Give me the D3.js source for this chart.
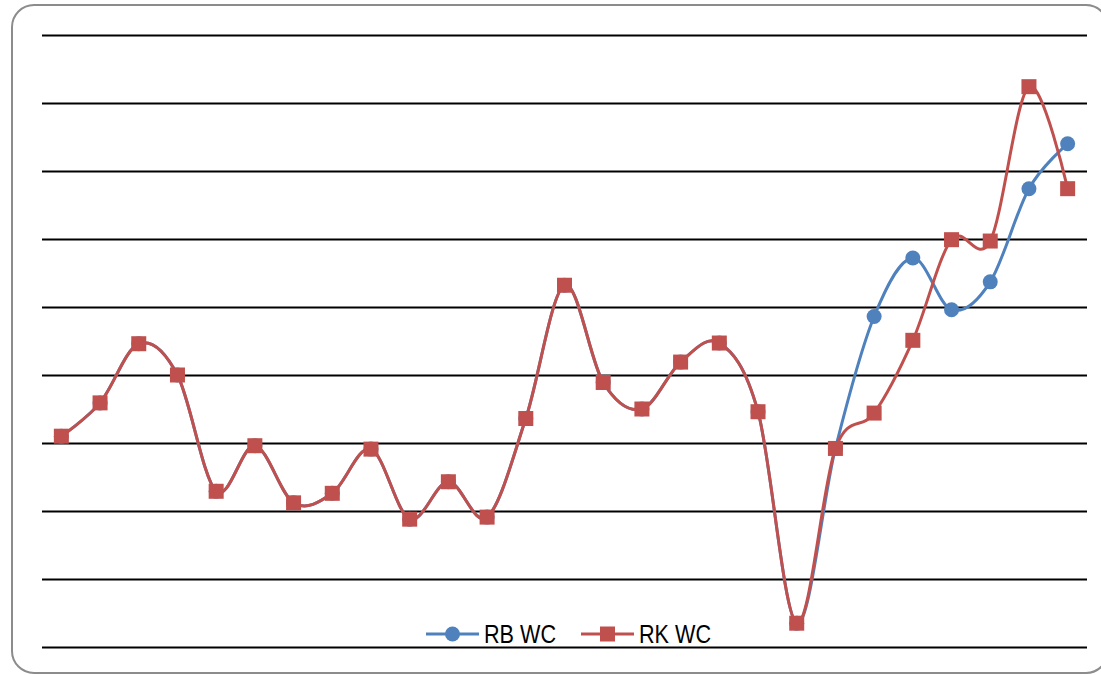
<!DOCTYPE html>
<html>
<head>
<meta charset="utf-8">
<script src="https://cdn.jsdelivr.net/npm/d3@7"></script>
<style>
  html, body { margin: 0; padding: 0; background: #ffffff; }
  svg { display: block; }
</style>
</head>
<body>
<svg id="chart" width="1101" height="675"></svg>
<script>
// Categories along the x axis (27 periods)
const categories = d3.range(1, 28).map(String);

// Series values
const rbWC = [3.10, 3.59, 4.46, 4.00, 2.29, 2.96, 2.12, 2.26, 2.91, 1.88, 2.43, 1.91, 3.36,
              5.32, 3.89, 3.50, 4.19, 4.47, 3.46, 0.35, 2.92, 4.86, 5.72, 4.96, 5.37, 6.74, 7.40];
const rkWC = [3.10, 3.59, 4.46, 4.00, 2.29, 2.96, 2.12, 2.26, 2.91, 1.88, 2.43, 1.91, 3.36,
              5.32, 3.89, 3.50, 4.19, 4.47, 3.46, 0.35, 2.92, 3.44, 4.51, 5.99, 5.97, 8.24, 6.74];

// Value-axis ticks (gridlines only, labels hidden)
const yTicks = d3.range(0, 10);

const seriesNames = ["RB WC", "RK WC"];
const colors = { "RB WC": "#4F81BD", "RK WC": "#C0504D" };

const svg = d3.select("#chart");

// Rounded chart-area frame
svg.append("rect")
  .attr("x", 12).attr("y", 5)
  .attr("width", 1096).attr("height", 668)
  .attr("rx", 22).attr("ry", 22)
  .attr("fill", "#ffffff")
  .attr("stroke", "#8c8c8c")
  .attr("stroke-width", 2);

const plot = { left: 42, right: 1087, top: 35, bottom: 647 };

const x = d3.scaleBand()
  .domain(categories)
  .range([plot.left, plot.right]);

const y = d3.scaleLinear()
  .domain([0, 9])
  .range([plot.bottom, plot.top]);

// Horizontal gridlines
const grid = svg.append("g")
  .attr("transform", `translate(${plot.left},0)`)
  .call(d3.axisLeft(y)
    .tickValues(yTicks)
    .tickSize(-(plot.right - plot.left))
    .tickFormat(""));
grid.select(".domain").remove();
grid.selectAll(".tick line")
  .attr("stroke", "#000000")
  .attr("stroke-width", 2);

const cx = d => x(d) + x.bandwidth() / 2;

const line = d3.line()
  .x((d, i) => cx(categories[i]))
  .y(d => y(d))
  .curve(d3.curveCardinal.tension(0));

const data = { "RB WC": rbWC, "RK WC": rkWC };

seriesNames.forEach(name => {
  const vals = data[name];
  const g = svg.append("g");
  g.append("path")
    .datum(vals)
    .attr("fill", "none")
    .attr("stroke", colors[name])
    .attr("stroke-width", 3)
    .attr("stroke-linejoin", "round")
    .attr("d", line);

  if (name === "RB WC") {
    g.selectAll("circle")
      .data(vals)
      .join("circle")
      .attr("cx", (d, i) => cx(categories[i]))
      .attr("cy", d => y(d))
      .attr("r", 7.5)
      .attr("fill", colors[name]);
  } else {
    g.selectAll("rect")
      .data(vals)
      .join("rect")
      .attr("x", (d, i) => cx(categories[i]) - 7.5)
      .attr("y", d => y(d) - 7.5)
      .attr("width", 15)
      .attr("height", 15)
      .attr("fill", colors[name]);
  }
});

// Legend (condensed sans text)
const legendItems = [
  { name: "RB WC", x0: 426 },
  { name: "RK WC", x0: 581 }
];
const legendY = 634;
const lg = svg.append("g").attr("class", "legend");
legendItems.forEach(item => {
  const c = colors[item.name];
  lg.append("line")
    .attr("x1", item.x0).attr("x2", item.x0 + 53)
    .attr("y1", legendY).attr("y2", legendY)
    .attr("stroke", c).attr("stroke-width", 3);
  if (item.name === "RB WC") {
    lg.append("circle")
      .attr("cx", item.x0 + 26.5).attr("cy", legendY).attr("r", 7.5)
      .attr("fill", c);
  } else {
    lg.append("rect")
      .attr("x", item.x0 + 19).attr("y", legendY - 7.5)
      .attr("width", 15).attr("height", 15)
      .attr("fill", c);
  }
  lg.append("text")
    .attr("x", item.x0 + 58)
    .attr("y", legendY + 9)
    .attr("font-family", "'Liberation Sans', Arial, sans-serif")
    .attr("font-size", 25)
    .attr("textLength", 72)
    .attr("lengthAdjust", "spacingAndGlyphs")
    .attr("fill", "#000000")
    .text(item.name);
});
</script>
</body>
</html>
